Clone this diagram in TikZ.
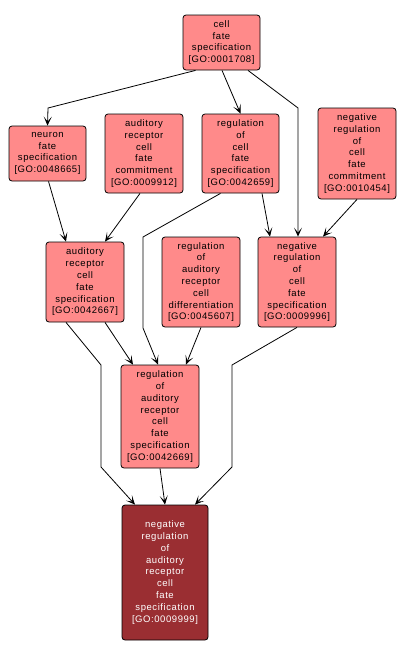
\documentclass[tikz,border=0pt]{standalone}
\usepackage{fontspec}
\setmainfont[LetterSpace=6]{Liberation Sans}
\usetikzlibrary{arrows.meta}
\definecolor{gofill}{HTML}{FF8A8A}
\definecolor{gomain}{HTML}{9A2E32}
\tikzset{
  gobox/.style={draw=black, line width=0.8pt, rounded corners=3pt, fill=gofill, align=center,
    font=\fontsize{9.5}{11.8}\selectfont, inner sep=0pt, text=black},
  gomainbox/.style={gobox, fill=gomain, text=white},
  edge/.style={draw=black, line width=0.8pt, -{Stealth[length=9pt,width=8pt,inset=5pt]}}
}
\begin{document}
\begin{tikzpicture}[x=1pt,y=-1pt]
\useasboundingbox (0,0) rectangle (406,656);
\node[gobox, minimum width=77pt, minimum height=55pt] (A) at (221.5,42.5) {cell\\fate\\specification\\{[GO:0001708]}};
\node[gobox, minimum width=77pt, minimum height=55pt] (B) at (47.5,153.5) {neuron\\fate\\specification\\{[GO:0048665]}};
\node[gobox, minimum width=78pt, minimum height=79pt] (C) at (144,153.5) {auditory\\receptor\\cell\\fate\\commitment\\{[GO:0009912]}};
\node[gobox, minimum width=77pt, minimum height=79pt] (D) at (240.5,153.5) {regulation\\of\\cell\\fate\\specification\\{[GO:0042659]}};
\node[gobox, minimum width=78pt, minimum height=91pt] (E) at (357,153.5) {negative\\regulation\\of\\cell\\fate\\commitment\\{[GO:0010454]}};
\node[gobox, minimum width=78pt, minimum height=80pt] (F) at (85,282) {auditory\\receptor\\cell\\fate\\specification\\{[GO:0042667]}};
\node[gobox, minimum width=78pt, minimum height=90pt] (G) at (201,282) {regulation\\of\\auditory\\receptor\\cell\\differentiation\\{[GO:0045607]}};
\node[gobox, minimum width=78pt, minimum height=90pt] (H) at (297,282) {negative\\regulation\\of\\cell\\fate\\specification\\{[GO:0009996]}};
\node[gobox, minimum width=78pt, minimum height=103pt] (I) at (160,416.5) {regulation\\of\\auditory\\receptor\\cell\\fate\\specification\\{[GO:0042669]}};
\node[gomainbox, minimum width=86pt, minimum height=135pt] (J) at (165,572.5) {negative\\regulation\\of\\auditory\\receptor\\cell\\fate\\specification\\{[GO:0009999]}};
% edges
\draw[edge] ([xshift=-26pt]A.south) -- (48,108) -- (B.north);
\draw[edge] ([xshift=0.5pt]A.south) -- (D.north);
\draw[edge] ([xshift=26.5pt]A.south) -- (298,108) -- ([xshift=1pt]H.north);
\draw[edge] ([xshift=21.5pt]D.south) -- ([xshift=-27pt]H.north);
\draw[edge] (E.south) -- ([xshift=26pt]H.north);
\draw[edge] ([xshift=1pt]B.south) -- ([xshift=-19pt]F.north);
\draw[edge] ([xshift=-4pt]C.south) -- ([xshift=20pt]F.north);
\draw[edge] ([xshift=-20pt]D.south) -- (143,237) -- (143,328) -- ([xshift=-2pt]I.north);
\draw[edge] (G.south) -- ([xshift=26pt]I.north);
\draw[edge] ([xshift=20pt]F.south) -- ([xshift=-27pt]I.north);
\draw[edge] ([xshift=-19pt]F.south) -- (101,365) -- (101,467) -- ([xshift=-30pt]J.north);
\draw[edge] (I.south) -- (J.north);
\draw[edge] (H.south) -- (232,365) -- (232,467) -- ([xshift=30pt]J.north);
\end{tikzpicture}
\end{document}
